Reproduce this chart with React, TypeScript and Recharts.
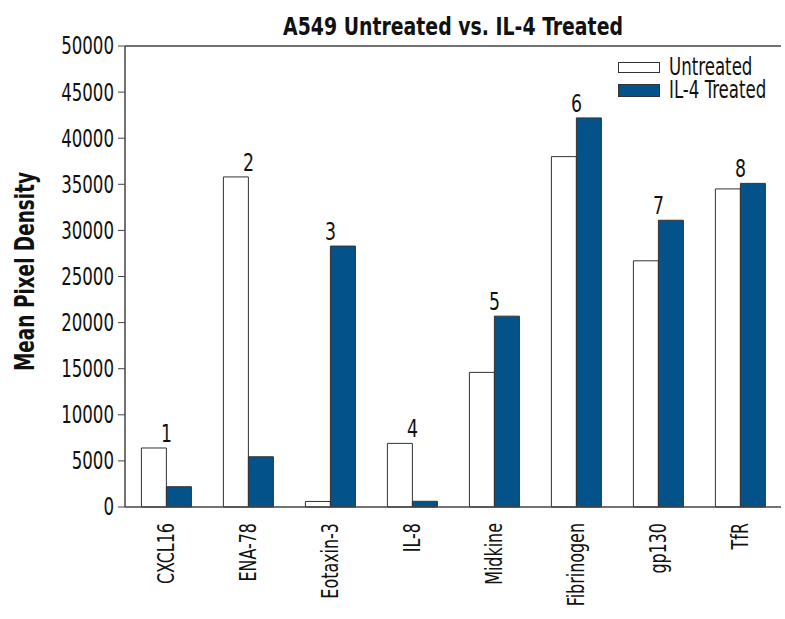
import {Bar, BarChart, LabelList, XAxis, YAxis, ReferenceLine} from 'recharts'

const categories = ['CXCL16', 'ENA-78', 'Eotaxin-3', 'IL-8', 'Midkine', 'Fibrinogen', 'gp130', 'TfR']
const untreated = [6400, 35800, 600, 6900, 14600, 38000, 26700, 34500]
const treated = [2200, 5450, 28300, 620, 20700, 42200, 31100, 35100]
const markers = ['1', '2', '3', '4', '5', '6', '7', '8']
const yTicks = [0, 5000, 10000, 15000, 20000, 25000, 30000, 35000, 40000, 45000, 50000]
const seriesNames = ['Untreated', 'IL-4 Treated']

const data = categories.map((name, i) => ({
  name,
  untreated: untreated[i],
  treated: treated[i],
  marker: markers[i]
}))

// no condensed font installed, so squeeze DejaVu Sans Condensed horizontally
const FONT = '"DejaVu Sans Condensed", sans-serif'
const BLUE = '#03538a'
const INK = '#111'

const Narrow = ({x, y, sx = 0.77, rotate = 0, size = 24, bold = false, anchor = 'start', baseline, children}: any) => (
  <text
    transform={`translate(${x},${y}) rotate(${rotate}) scale(${sx},1)`}
    textAnchor={anchor}
    dominantBaseline={baseline}
    fontFamily={FONT}
    fontSize={size}
    fontWeight={bold ? 'bold' : 'normal'}
    fill={INK}
  >
    {children}
  </text>
)

const XTick = ({x, y, payload}: any) => (
  <Narrow x={x} y={y + 8} rotate={-90} anchor='end' baseline='central' size={23}>
    {payload.value}
  </Narrow>
)

const YTick = ({x, y, payload}: any) => (
  <Narrow x={x - 2} y={y} anchor='end' baseline='central' size={24}>
    {payload.value}
  </Narrow>
)

const YLabel = ({viewBox}: any) => (
  <Narrow x={34} y={viewBox.y + viewBox.height / 2 - 5} rotate={-90} anchor='middle' size={27} bold sx={0.76}>
    Mean Pixel Density
  </Narrow>
)

// number goes over the taller bar of the pair, at the category centre
const makeMarker = (series: 'untreated' | 'treated') => (props: any) => {
  const {x, y, width, index} = props
  const d = data[index]
  const other = series === 'untreated' ? d.treated : d.untreated
  if (d[series] < other) return null
  const cx = series === 'untreated' ? x + width : x
  return (
    <Narrow x={cx} y={y - 6} anchor='middle' size={25}>
      {d.marker}
    </Narrow>
  )
}

export default function App() {
  return (
    <div style={{position: 'absolute', left: 0, top: 0, width: 785, height: 619, background: '#fff'}}>
      <BarChart
        width={785}
        height={619}
        data={data}
        margin={{top: 46, right: 4, left: 0, bottom: 0}}
        barCategoryGap='20%'
        barGap={0}
      >
        <XAxis
          dataKey='name'
          height={112}
          tick={<XTick />}
          tickLine={false}
          axisLine={{stroke: '#444', strokeWidth: 1.5}}
          interval={0}
        />
        <YAxis
          domain={[0, 50000]}
          ticks={yTicks}
          width={125}
          interval={0}
          tickLine={{stroke: '#444'}}
          tickSize={7}
          axisLine={{stroke: '#444', strokeWidth: 1.5}}
          tick={<YTick />}
          label={<YLabel />}
        />
        <YAxis
          yAxisId='frame'
          orientation='right'
          width={0}
          domain={[0, 50000]}
          tick={false}
          tickLine={false}
          axisLine={{stroke: '#444', strokeWidth: 1.5}}
        />
        <ReferenceLine y={50000} stroke='#444' strokeWidth={1.5} />
        <Bar dataKey='untreated' fill='#fff' stroke='#333' strokeWidth={1} isAnimationActive={false}>
          <LabelList dataKey='untreated' content={makeMarker('untreated')} />
        </Bar>
        <Bar dataKey='treated' fill={BLUE} stroke='#333' strokeWidth={1} isAnimationActive={false}>
          <LabelList dataKey='treated' content={makeMarker('treated')} />
        </Bar>
      </BarChart>
      <svg width={785} height={110} style={{position: 'absolute', left: 0, top: 0, pointerEvents: 'none'}}>
        <Narrow x={453} y={35} anchor='middle' size={25} bold sx={0.84}>
          A549 Untreated vs. IL-4 Treated
        </Narrow>
        {seriesNames.map((name, i) => (
          <g key={name}>
            <rect
              x={618.5}
              y={62.5 + i * 22}
              width={41}
              height={10 + i * 2}
              fill={i === 0 ? '#fff' : BLUE}
              stroke='#333'
            />
            <Narrow x={669} y={75 + i * 23} size={25} sx={0.74}>
              {name}
            </Narrow>
          </g>
        ))}
      </svg>
    </div>
  )
}
